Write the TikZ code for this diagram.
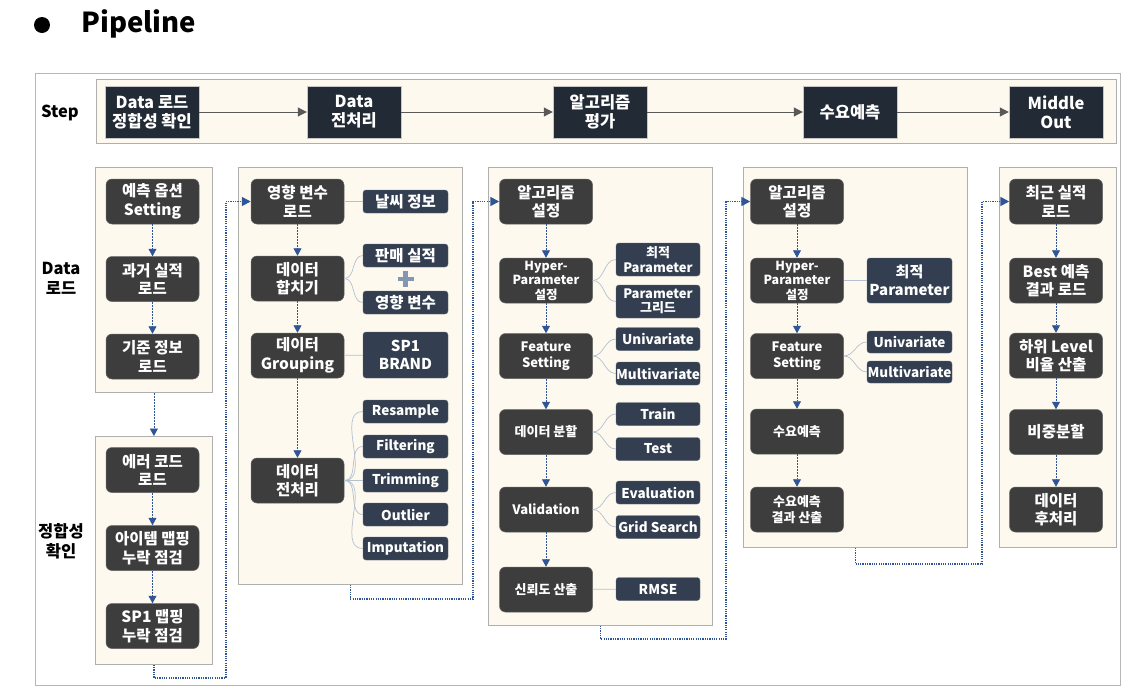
\documentclass[tikz,border=0pt]{standalone}
\usepackage{fontspec}
\setmainfont{Noto Sans CJK KR}
\usetikzlibrary{arrows.meta}

\definecolor{cream}{HTML}{FDF9EE}
\definecolor{rim}{HTML}{AFAFAF}
\definecolor{stepfill}{HTML}{222A35}
\definecolor{boxfill}{HTML}{3D3D3D}
\definecolor{subfill}{HTML}{333F50}
\definecolor{flowblue}{HTML}{2F5597}
\definecolor{twiggray}{HTML}{B4C0D0}
\definecolor{plusblue}{HTML}{8497B0}

\begin{document}
\begin{tikzpicture}[x=1pt, y=-1pt, >={Triangle[length=7.5pt,width=8pt]},
  panel/.style={draw=rim, fill=cream, line width=0.8pt, anchor=north west, inner sep=0pt},
  stepbox/.style={fill=stepfill, draw=rim!70, line width=0.4pt, text=white, minimum width=94pt,
    minimum height=52pt, inner sep=0pt, align=center, font=\bfseries\fontsize{16.5}{19}\selectfont},
  mainbox/.style={fill=boxfill, draw=boxfill!80!white, line width=0.5pt, rounded corners=6pt,
    text=white, minimum width=93pt, minimum height=45pt, inner sep=0pt, align=center,
    font=\bfseries\fontsize{15.5}{18.5}\selectfont},
  subbox/.style={fill=subfill, draw=subfill!80!white, line width=0.4pt, rounded corners=3pt,
    text=white, minimum width=85pt, minimum height=23pt, inner sep=0pt, align=center,
    font=\bfseries\fontsize{13.5}{15}\selectfont},
  hangul/.style={font=\bfseries\fontsize{15.5}{17}\selectfont},
  small/.style={font=\bfseries\fontsize{13}{16}\selectfont},
  flow/.style={->, flowblue, line width=0.8pt, dash pattern=on 2pt off 1pt},
  hop/.style={->, flowblue, line width=1.7pt, dash pattern=on 1.2pt off 1.1pt,
    >={Triangle[length=9pt,width=9pt]}},
  twig/.style={twiggray, line width=0.7pt},
  stepline/.style={->, black!65, line width=1pt, >={Triangle[length=9pt,width=9pt]}},
  rowlabel/.style={font=\bfseries\fontsize{16.5}{20}\selectfont, align=center}]
  \useasboundingbox (0,0) rectangle (1144,694);

  % --- title ---
  \node[circle, fill=black, minimum size=16pt, inner sep=0pt] (bullet) at (42,25) {};
  \node[anchor=west, font=\bfseries\fontsize{27.5}{32}\selectfont] (title) at (78,24) {Pipeline};

  % --- frame, step band and panels ---
  \node[panel, draw=rim!90, fill=white, minimum width=1085pt, minimum height=612pt] (frame) at (35,73) {};
  \node[panel, minimum width=1020pt, minimum height=64pt] (band) at (96,79) {};
  \node[panel, minimum width=117pt, minimum height=225pt] (pA)  at (95,167) {};
  \node[panel, minimum width=117pt, minimum height=228pt] (pA2) at (95,436) {};
  \node[panel, minimum width=224pt, minimum height=417pt] (pB)  at (238,167) {};
  \node[panel, minimum width=224pt, minimum height=458pt] (pC)  at (488,167) {};
  \node[panel, minimum width=224pt, minimum height=380pt] (pD)  at (743,167) {};
  \node[panel, minimum width=117pt, minimum height=380pt] (pE)  at (999,167) {};

  % --- row labels ---
  \node[rowlabel] (lstep) at (60,113) {Step};
  \node[rowlabel] (ldata) at (61,278) {Data\\로드};
  \node[rowlabel] (lcheck) at (61,541) {정합성\\확인};

  % --- step row ---
  \node[stepbox] (s1) at (152,112) {Data 로드\\정합성 확인};
  \node[stepbox] (s2) at (354,112) {Data\\전처리};
  \node[stepbox] (s3) at (600,112) {알고리즘\\평가};
  \node[stepbox] (s4) at (850,112) {수요예측};
  \node[stepbox] (s5) at (1056,112) {Middle\\Out};
  \foreach \a/\b in {s1/s2,s2/s3,s3/s4,s4/s5}
    \draw[stepline] (\a) -- (\b);

  % --- Data load / check ---
  \node[mainbox] (a1) at (152.5,201.5) {예측 옵션\\Setting};
  \node[mainbox] (a2) at (152.5,279) {과거 실적\\로드};
  \node[mainbox] (a3) at (152.5,356.5) {기준 정보\\로드};
  \node[mainbox] (a4) at (152.5,470) {에러 코드\\로드};
  \node[mainbox] (a5) at (152.5,548) {아이템 맵핑\\누락 점검};
  \node[mainbox] (a6) at (152.5,626) {SP1 맵핑\\누락 점검};
  \foreach \a/\b in {a1/a2,a2/a3,a4/a5,a5/a6}
    \draw[flow] (\a) -- (\b);
  \draw[flow] (pA.south) -- (pA2.north);

  % --- Data preprocessing ---
  \node[mainbox] (b1) at (297.5,201.5) {영향 변수\\로드};
  \node[mainbox] (b2) at (297.5,278.5) {데이터\\합치기};
  \node[mainbox] (b3) at (297.5,355.5) {데이터\\Grouping};
  \node[mainbox] (b4) at (297.5,480.5) {데이터\\전처리};
  \foreach \a/\b in {b1/b2,b2/b3,b3/b4}
    \draw[flow] (\a) -- (\b);
  \node[subbox, hangul] (weather) at (405.5,201.5) {날씨 정보};
  \node[subbox, hangul] (sales)   at (405.5,255.5) {판매 실적};
  \node[subbox, hangul] (effect)  at (405.5,302.5) {영향 변수};
  \node[subbox, minimum height=46pt, font=\bfseries\fontsize{15}{18}\selectfont] (brand) at (405.5,355) {SP1\\BRAND};
  \draw[plusblue, line width=4.5pt] (405.5,271) -- (405.5,287) (397.5,279) -- (413.5,279);
  \foreach \n/\y/\t in {resample/411.5/Resample, filtering/446.5/Filtering, trimming/480.5/Trimming,
      outlier/514.5/Outlier, imputation/548.5/Imputation}
    \node[subbox] (\n) at (405.5,\y) {\t};
  \draw[twig] (b1) -- (weather);
  \draw[twig] (b3) -- (brand);
  \foreach \s in {sales,effect}
    \draw[twig] (b2.east) to[out=0,in=180] (\s.west);
  \foreach \s in {resample,filtering,trimming,outlier,imputation}
    \draw[twig] (b4.east) to[out=0,in=180] (\s.west);

  % --- algorithm evaluation ---
  \node[mainbox] (c1) at (546,201.5) {알고리즘\\설정};
  \node[mainbox, font=\bfseries\fontsize{12.5}{14.5}\selectfont] (c2) at (546,280.5) {Hyper-\\Parameter\\설정};
  \node[mainbox, small] (c3) at (546,356) {Feature\\Setting};
  \node[mainbox, small] (c4) at (546,432) {데이터 분할};
  \node[mainbox, small] (c5) at (546,509.5) {Validation};
  \node[mainbox, small] (c6) at (546,589.5) {신뢰도 산출};
  \foreach \a/\b in {c1/c2,c2/c3,c3/c4,c4/c5,c5/c6}
    \draw[flow] (\a) -- (\b);
  \node[subbox, minimum width=84pt, minimum height=33pt, font=\bfseries\fontsize{13}{14.5}\selectfont] (bestc) at (658,259.5) {최적\\Parameter};
  \node[subbox, minimum width=84pt, minimum height=33pt, font=\bfseries\fontsize{13}{14.5}\selectfont] (grid) at (658,301.5) {Parameter\\그리드};
  \foreach \n/\y/\t in {univc/339/Univariate, multic/373.5/Multivariate, train/414/Train, test/449/Test,
      evaluation/492.5/Evaluation, gridsearch/527/Grid Search, rmse/589/RMSE}
    \node[subbox, minimum width=84pt] (\n) at (658,\y) {\t};
  \foreach \a/\s in {c2/bestc,c2/grid,c3/univc,c3/multic,c4/train,c4/test,c5/evaluation,c5/gridsearch}
    \draw[twig] (\a.east) to[out=0,in=180] (\s.west);
  \draw[twig] (c6) -- (rmse);

  % --- demand forecast ---
  \node[mainbox] (d1) at (797,201.5) {알고리즘\\설정};
  \node[mainbox, font=\bfseries\fontsize{12.5}{14.5}\selectfont] (d2) at (797,280.5) {Hyper-\\Parameter\\설정};
  \node[mainbox, small] (d3) at (797,356) {Feature\\Setting};
  \node[mainbox, small] (d4) at (797,431.5) {수요예측};
  \node[mainbox, small] (d5) at (797,509.5) {수요예측\\결과 산출};
  \foreach \a/\b in {d1/d2,d2/d3,d3/d4,d4/d5}
    \draw[flow] (\a) -- (\b);
  \node[subbox, minimum height=45pt, font=\bfseries\fontsize{15}{18.5}\selectfont] (bestd) at (909.5,280.5) {최적\\Parameter};
  \node[subbox, minimum height=22pt] (univd) at (909.5,342) {Univariate};
  \node[subbox, minimum height=22pt] (multid) at (909.5,372) {Multivariate};
  \draw[twig] (d2) -- (bestd);
  \foreach \s in {univd,multid}
    \draw[twig] (d3.east) to[out=0,in=180] (\s.west);

  % --- middle out ---
  \node[mainbox] (e1) at (1056,201.5) {최근 실적\\로드};
  \node[mainbox] (e2) at (1056,280.5) {Best 예측\\결과 로드};
  \node[mainbox] (e3) at (1056,355.5) {하위 Level\\비율 산출};
  \node[mainbox] (e4) at (1056,432) {비중분할};
  \node[mainbox] (e5) at (1056,509.5) {데이터\\후처리};
  \foreach \a/\b in {e1/e2,e2/e3,e3/e4,e4/e5}
    \draw[flow] (\a) -- (\b);

  % --- hand-over between panels ---
  \draw[hop] (pA2.south) -- ++(0,13) -| ([xshift=-25pt]b1.west) -- (b1.west);
  \draw[hop] (pB.south) -- ++(0,14) -| ([xshift=-26pt]c1.west) -- (c1.west);
  \draw[hop] (pC.south) -- ++(0,13) -| ([xshift=-24pt]d1.west) -- (d1.west);
  \draw[hop] (pD.south) -- ++(0,16) -| ([xshift=-27pt]e1.west) -- (e1.west);
\end{tikzpicture}
\end{document}
